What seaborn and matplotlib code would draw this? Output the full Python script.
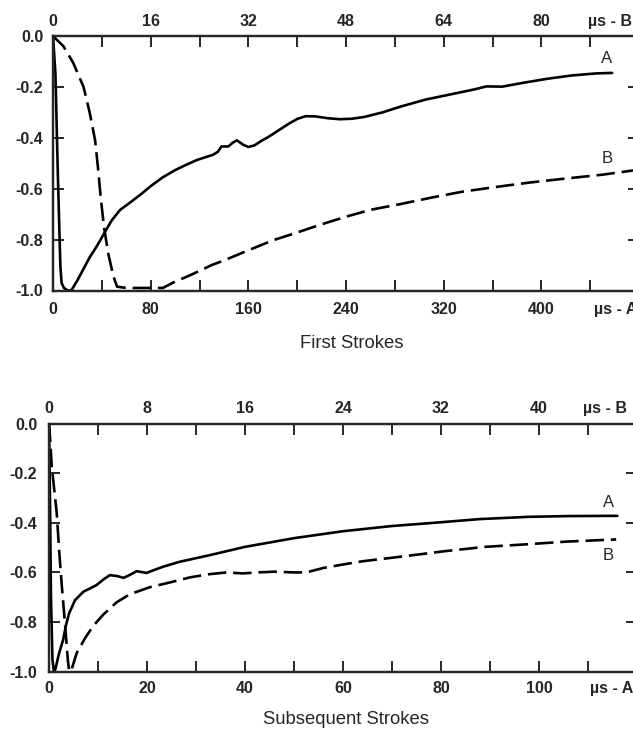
import matplotlib
matplotlib.use('Agg')
import matplotlib.pyplot as plt
import matplotlib.transforms as mtrans
from matplotlib.ticker import MultipleLocator, FixedLocator
import seaborn as sns

sns.set_style('ticks')
plt.rcParams['font.family'] = ['Liberation Sans', 'DejaVu Sans']
plt.rcParams['axes.unicode_minus'] = False

# ---- First strokes: curve A on the bottom (µs - A) scale, curve B on the top (µs - B) scale
first_a_t = [0, 2, 4, 6, 7, 9, 12, 15, 20, 25, 30, 36, 42, 48, 55, 63, 72, 80, 90, 100,
             110, 118, 125, 131, 135, 138, 143.6, 147, 150.5, 153, 156, 160, 165, 170, 177,
             185, 193, 200, 207, 215, 225, 235, 245, 255, 270, 285, 305, 325, 345, 355,
             368, 385, 405, 425, 445, 458]
first_a_i = [0, -0.15, -0.55, -0.9, -0.97, -0.99, -1.0, -1.0, -0.96, -0.915, -0.87, -0.825,
             -0.775, -0.725, -0.683, -0.655, -0.622, -0.59, -0.555, -0.527,
             -0.504, -0.487, -0.476, -0.467, -0.455, -0.434, -0.434, -0.42, -0.41, -0.418,
             -0.428, -0.436, -0.43, -0.414, -0.395,
             -0.37, -0.345, -0.326, -0.315, -0.316, -0.323, -0.327, -0.325, -0.318, -0.3,
             -0.277, -0.25, -0.23, -0.21, -0.198,
             -0.199, -0.184, -0.168, -0.155, -0.147, -0.145]
first_b_t = [0, 1.7, 3.3, 5.0, 6.0, 6.9, 7.4, 7.8, 8.35, 9.05, 9.9, 10.5, 12, 15, 18, 20, 22,
             24, 26, 28, 32, 36, 40, 44, 48, 52, 57, 62, 67, 72, 78, 84, 90, 96]
first_b_i = [0, -0.04, -0.105, -0.2, -0.3, -0.41, -0.525, -0.63, -0.75, -0.855, -0.945,
             -0.985, -0.99, -0.99, -0.99, -0.965, -0.945, -0.923, -0.9, -0.882, -0.842,
             -0.803, -0.772, -0.74, -0.71, -0.683, -0.66, -0.635, -0.612, -0.595, -0.576,
             -0.56, -0.545, -0.525]

# ---- Subsequent strokes
subs_a_t = [0, 0.2, 0.4, 0.7, 1.0, 1.3, 2.0, 2.9, 3.5, 4.1, 5.3, 7.0, 9.7, 11, 12.4, 14,
            15.2, 16.5, 17.9, 19.9, 21.5, 23.3, 26.7, 32.9, 40, 50, 60, 70, 78, 88, 98,
            106, 116]
subs_a_i = [0, -0.3, -0.7, -0.95, -1.0, -0.99, -0.93, -0.87, -0.81, -0.765, -0.712, -0.678,
            -0.651, -0.63, -0.611, -0.615, -0.622, -0.61, -0.595, -0.602, -0.59, -0.577,
            -0.557, -0.53, -0.497, -0.462, -0.434, -0.413, -0.401, -0.385, -0.376,
            -0.373, -0.372]
subs_b_t = [0, 0.1, 0.22, 0.63, 0.84, 1.04, 1.31, 1.55, 1.66, 1.85, 2.26, 2.94, 3.62, 4.43,
            5.53, 6.6, 8.2, 9.9, 11.5, 13.1, 14.5, 15.8, 17, 18.4, 20, 21, 22.4, 24, 25.6,
            29, 32.2, 35.6, 38.9, 42.2, 46.3]
subs_b_i = [0, -0.07, -0.17, -0.36, -0.52, -0.65, -0.81, -0.96, -1.0, -0.99, -0.925, -0.865,
            -0.815, -0.77, -0.72, -0.688, -0.66, -0.64, -0.62, -0.607, -0.6, -0.604, -0.6,
            -0.597, -0.6, -0.6, -0.582, -0.568, -0.555, -0.535, -0.515, -0.497, -0.487,
            -0.476, -0.467]

y_ticks = [0.0, -0.2, -0.4, -0.6, -0.8, -1.0]

tick_font = dict(fontsize=11.5, fontweight='bold')

fig = plt.figure(figsize=(6.33, 7.29), dpi=100)


def panel(rect, a_t, a_i, b_t, b_i, a_max, b_max, a_major, b_major,
          a_unit_x, b_unit_x, lab_a, lab_b, pads):
    ax = fig.add_axes(rect)
    sns.lineplot(x=a_t, y=a_i, ax=ax, color='black', lw=1.9, estimator=None, sort=False)
    ax.set_xlim(0, a_max)
    ax.set_ylim(-1.0, 0.0)
    ax_top = ax.twiny()
    sns.lineplot(x=b_t, y=b_i, ax=ax_top, color='black', lw=1.9, estimator=None,
                 sort=False, linestyle=(0, (7, 2.6)))
    ax_top.set_xlim(0, b_max)
    ax.set_ylim(-1.0, 0.0)
    for a in (ax, ax_top):
        a.set_xlabel('')
        a.set_ylabel('')
        for s in a.spines.values():
            s.set_linewidth(1.6)
            s.set_visible(True)

    ax.xaxis.set_major_locator(MultipleLocator(a_major))
    ax.xaxis.set_minor_locator(MultipleLocator(a_major / 2))
    ax.set_xticks([t for t in range(0, int(a_max), int(a_major)) if t < a_unit_x - a_major / 2])
    ax.set_xticklabels([str(t) for t in ax.get_xticks().astype(int)], **tick_font)
    ax_top.xaxis.set_minor_locator(MultipleLocator(b_major / 2))
    ax_top.set_xticks([t for t in range(0, int(b_max), int(b_major)) if t < b_unit_x - b_major / 2])
    ax_top.set_xticklabels([str(t) for t in ax_top.get_xticks().astype(int)], **tick_font)
    ax.set_xlim(0, a_max)
    ax_top.set_xlim(0, b_max)

    ax.set_yticks(y_ticks)
    ax.set_yticklabels(['%.1f' % v for v in y_ticks], **tick_font)

    ax.tick_params(axis='x', which='both', direction='in', length=8, width=1.4,
                   bottom=True, top=False, pad=pads[0])
    ax.tick_params(axis='y', which='both', direction='in', length=8, width=1.4,
                   left=True, right=True, pad=pads[2])
    ax_top.tick_params(axis='x', which='both', direction='in', length=8, width=1.4,
                       top=True, bottom=False, pad=pads[1])

    tb = mtrans.blended_transform_factory(ax.transData, ax.transAxes)
    ax.text(a_unit_x, 0, lab_a, transform=mtrans.offset_copy(tb, fig=fig, y=-pads[0], units='points'),
            ha='center', va='top', clip_on=False, **tick_font)
    tt = mtrans.blended_transform_factory(ax_top.transData, ax_top.transAxes)
    ax_top.text(b_unit_x, 1, lab_b, transform=mtrans.offset_copy(tt, fig=fig, y=pads[1], units='points'),
                ha='center', va='bottom', clip_on=False, **tick_font)
    return ax


ax1 = panel([53 / 633, 1 - 290.5 / 729, 586 / 633, 254.5 / 729],
            first_a_t, first_a_i, first_b_t, first_b_i, 480, 96, 80, 16,
            460.5, 91.2, 'µs - A', 'µs - B', (8.0, 4.8, 7.0))
ax1.text(453, -0.089, 'A', ha='center', va='center', fontsize=12)
ax1.text(454, -0.481, 'B', ha='center', va='center', fontsize=12)

ax2 = panel([49 / 633, 1 - 671.7 / 729, 588 / 633, 248.2 / 729],
            subs_a_t, subs_a_i, subs_b_t, subs_b_i, 120, 48, 20, 8,
            114.8, 45.4, 'µs - A', 'µs - B', (7.0, 5.5, 8.5))
ax2.text(114.1, -0.319, 'A', ha='center', va='center', fontsize=12)
ax2.text(114.2, -0.531, 'B', ha='center', va='center', fontsize=12)

fig.text(352 / 633, 1 - 348 / 729, 'First Strokes', ha='center', va='baseline', fontsize=13.3)
fig.text(346 / 633, 1 - 724 / 729, 'Subsequent Strokes', ha='center', va='baseline', fontsize=13.3)

fig.savefig('out.png', dpi=100)
